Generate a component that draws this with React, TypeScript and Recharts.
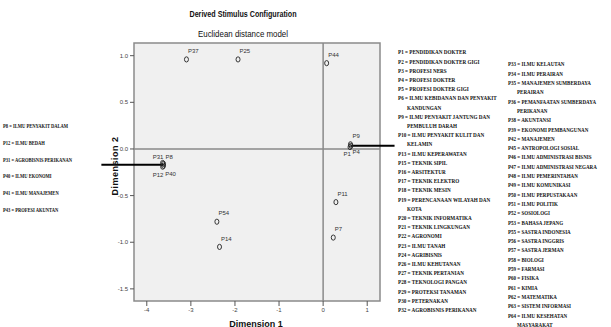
import React from 'react';
import { ScatterChart, Scatter, XAxis, YAxis, ReferenceLine, ReferenceArea } from 'recharts';

// stimulus coordinates
const stimulusNames = ['P37', 'P25', 'P44', 'P1', 'P4', 'P9', 'P31', 'P8', 'P12', 'P40', 'P11', 'P7', 'P54', 'P14'];
const dimension1 = [-3.1, -1.93, 0.08, 0.61, 0.63, 0.62, -3.64, -3.62, -3.64, -3.62, 0.29, 0.23, -2.41, -2.35];
const dimension2 = [0.96, 0.96, 0.92, 0.02, 0.035, 0.05, -0.15, -0.16, -0.19, -0.18, -0.57, -0.95, -0.78, -1.05];

const xTicks = [-4, -3, -2, -1, 0, 1];
const yTicks = [1.0, 0.5, 0.0, -0.5, -1.0, -1.5];
const xDomain: [number, number] = [-4.29, 1.29];
const yDomain: [number, number] = [-1.63, 1.136];

// pointer lines joining the two clusters to their keys
const leftPointer = [{ x: -5.03, y: -0.17 }, { x: -3.63, y: -0.17 }];
const rightPointer = [{ x: 0.62, y: 0.035 }, { x: 1.62, y: 0.035 }];

type KeyEntry = { label: string; more?: string };

const leftKey: KeyEntry[] = [
  { label: 'P8 = ILMU PENYAKIT DALAM' },
  { label: 'P12 = ILMU BEDAH' },
  { label: 'P31 = AGROBISNIS PERIKANAN' },
  { label: 'P40 = ILMU EKONOMI' },
  { label: 'P41 = ILMU MANAJEMEN' },
  { label: 'P43 = PROFESI AKUNTAN' },
];

const rightKeyA: KeyEntry[] = [
  { label: 'P1 = PENDIDIKAN DOKTER' },
  { label: 'P2 = PENDIDIKAN DOKTER GIGI' },
  { label: 'P3 = PROFESI NERS' },
  { label: 'P4 = PROFESI DOKTER' },
  { label: 'P5 = PROFESI DOKTER GIGI' },
  { label: 'P6 = ILMU KEBIDANAN DAN PENYAKIT', more: 'KANDUNGAN' },
  { label: 'P9 = ILMU PENYAKIT JANTUNG DAN', more: 'PEMBULUH DARAH' },
  { label: 'P10 = ILMU PENYAKIT KULIT DAN', more: 'KELAMIN' },
  { label: 'P13 = ILMU KEPERAWATAN' },
  { label: 'P15 = TEKNIK SIPIL' },
  { label: 'P16 = ARSITEKTUR' },
  { label: 'P17 = TEKNIK ELEKTRO' },
  { label: 'P18 = TEKNIK MESIN' },
  { label: 'P19 = PERENCANAAN WILAYAH DAN', more: 'KOTA' },
  { label: 'P20 = TEKNIK INFORMATIKA' },
  { label: 'P21 = TEKNIK LINGKUNGAN' },
  { label: 'P22 = AGRONOMI' },
  { label: 'P23 = ILMU TANAH' },
  { label: 'P24 = AGRIBISNIS' },
  { label: 'P26 = ILMU KEHUTANAN' },
  { label: 'P27 = TEKNIK PERTANIAN' },
  { label: 'P28 = TEKNOLOGI PANGAN' },
  { label: 'P29 = PROTEKSI TANAMAN' },
  { label: 'P30 = PETERNAKAN' },
  { label: 'P32 = AGROBISNIS PERIKANAN' },
];

const rightKeyB: KeyEntry[] = [
  { label: 'P33 = ILMU KELAUTAN' },
  { label: 'P34 = ILMU PERAIRAN' },
  { label: 'P35 = MANAJEMEN SUMBERDAYA', more: 'PERAIRAN' },
  { label: 'P36 = PEMANFAATAN SUMBERDAYA', more: 'PERIKANAN' },
  { label: 'P38 = AKUNTANSI' },
  { label: 'P39 = EKONOMI PEMBANGUNAN' },
  { label: 'P42 = MANAJEMEN' },
  { label: 'P45 = ANTROPOLOGI SOSIAL' },
  { label: 'P46 = ILMU ADMINISTRASI BISNIS' },
  { label: 'P47 = ILMU ADMINISTRASI NEGARA' },
  { label: 'P48 = ILMU PEMERINTAHAN' },
  { label: 'P49 = ILMU KOMUNIKASI' },
  { label: 'P50 = ILMU PERPUSTAKAAN' },
  { label: 'P51 = ILMU POLITIK' },
  { label: 'P52 = SOSIOLOGI' },
  { label: 'P53 = BAHASA JEPANG' },
  { label: 'P55 = SASTRA INDONESIA' },
  { label: 'P56 = SASTRA INGGRIS' },
  { label: 'P57 = SASTRA JERMAN' },
  { label: 'P58 = BIOLOGI' },
  { label: 'P59 = FARMASI' },
  { label: 'P60 = FISIKA' },
  { label: 'P61 = KIMIA' },
  { label: 'P62 = MATEMATIKA' },
  { label: 'P63 = SISTEM INFORMASI' },
  { label: 'P64 = ILMU KESEHATAN', more: 'MASYARAKAT' },
];

const points = stimulusNames.map((name, i) => ({ name, x: dimension1[i], y: dimension2[i] }));

// where each point label sits relative to its marker
const labelSpot: Record<string, [number, number]> = {
  P9: [2, -8.5],
  P1: [-6.5, 6.8],
  P4: [1.6, 6.3],
  P31: [-10, -6.5],
  P8: [2, -6.5],
  P12: [-10, 8.5],
  P40: [1.7, 7.8],
};

const SANS = 'Liberation Sans, Arial, sans-serif';
const SERIF = 'Liberation Serif, Times New Roman, serif';

function Marker(props: any) {
  const { cx, cy, payload } = props;
  const [dx, dy] = labelSpot[payload.name] ?? [1.5, -8.5];
  return (
    <g>
      <ellipse cx={cx} cy={cy} rx={2} ry={2.6} fill="none" stroke="#222" strokeWidth={0.9} />
      <text x={cx + dx} y={cy + dy} dy="0.35em" fontSize={6} fill="#333" fontFamily={SANS}>
        {payload.name}
      </text>
    </g>
  );
}

function flatten(entries: KeyEntry[]) {
  const rows: { text: string; indent: boolean }[] = [];
  entries.forEach((e) => {
    rows.push({ text: e.label, indent: false });
    if (e.more) rows.push({ text: e.more, indent: true });
  });
  return rows;
}

function KeyColumn({ entries, x, y0, step, size, squeeze }: { entries: KeyEntry[]; x: number; y0: number; step: number; size: number; squeeze: number }) {
  return (
    <g>
      {flatten(entries).map((r, i) => (
        <text
          key={i}
          transform={`translate(${x + (r.indent ? 9 : 0)},${y0 + i * step}) scale(${squeeze},1)`}
          dy="0.35em"
          fontSize={size}
          fontWeight="bold"
          fontFamily={SERIF}
          fill="#111"
        >
          {r.text}
        </text>
      ))}
    </g>
  );
}

export default function App() {
  return (
    <div style={{ position: 'absolute', left: 0, top: 0, width: 611, height: 327, background: '#fff' }}>
      <ScatterChart width={611} height={327} margin={{ top: 43, right: 231, bottom: 8, left: 110 }}>
        <ReferenceArea
          x1={xDomain[0]}
          x2={xDomain[1]}
          y1={yDomain[0]}
          y2={yDomain[1]}
          fill="#f0f0f0"
          fillOpacity={1}
          stroke="#8a8a8a"
          strokeWidth={1.5}
        />
        <XAxis
          type="number"
          dataKey="x"
          domain={xDomain}
          ticks={xTicks}
          allowDataOverflow
          height={18}
          axisLine={false}
          tickSize={5}
          tickLine={{ stroke: '#555' }}
          tick={{ fontSize: 6, fill: '#444', fontFamily: SANS }}
        />
        <YAxis
          type="number"
          dataKey="y"
          domain={yDomain}
          ticks={yTicks}
          allowDataOverflow
          width={24}
          axisLine={false}
          tickSize={4}
          tickLine={{ stroke: '#555' }}
          tickFormatter={(v: number) => v.toFixed(1)}
          tick={{ fontSize: 6, fill: '#444', fontFamily: SANS }}
        />
        <ReferenceLine x={0} stroke="#8a8a8a" strokeWidth={1.5} />
        <ReferenceLine y={0} stroke="#8a8a8a" strokeWidth={1.5} />
        <ReferenceLine segment={leftPointer} ifOverflow="visible" stroke="#000" strokeWidth={2} />
        <ReferenceLine segment={rightPointer} ifOverflow="visible" stroke="#000" strokeWidth={2} />
        <Scatter data={points} shape={Marker} isAnimationActive={false} />
      </ScatterChart>
      <svg width={611} height={327} style={{ position: 'absolute', left: 0, top: 0, pointerEvents: 'none' }}>
        <text x={243} y={17} textAnchor="middle" fontSize={9} fontWeight="bold" fontFamily={SANS} textLength={107} lengthAdjust="spacingAndGlyphs" fill="#111">
          Derived Stimulus Configuration
        </text>
        <text x={243} y={36.5} textAnchor="middle" fontSize={9} fontFamily={SANS} textLength={90} lengthAdjust="spacingAndGlyphs" fill="#111">
          Euclidean distance model
        </text>
        <text x={256} y={327} textAnchor="middle" fontSize={9} fontWeight="bold" fontFamily={SANS} fill="#111">
          Dimension 1
        </text>
        <text transform="translate(118,166) rotate(-90)" textAnchor="middle" fontSize={9} fontWeight="bold" fontFamily={SANS} letterSpacing={0.5} fill="#111">
          Dimension 2
        </text>
        <KeyColumn entries={leftKey} x={3} y0={125.5} step={16.8} size={7} squeeze={0.65} />
        <KeyColumn entries={rightKeyA} x={398} y0={52} step={9.2} size={7} squeeze={0.74} />
        <KeyColumn entries={rightKeyB} x={508} y0={64} step={9.3} size={7} squeeze={0.72} />
      </svg>
    </div>
  );
}
